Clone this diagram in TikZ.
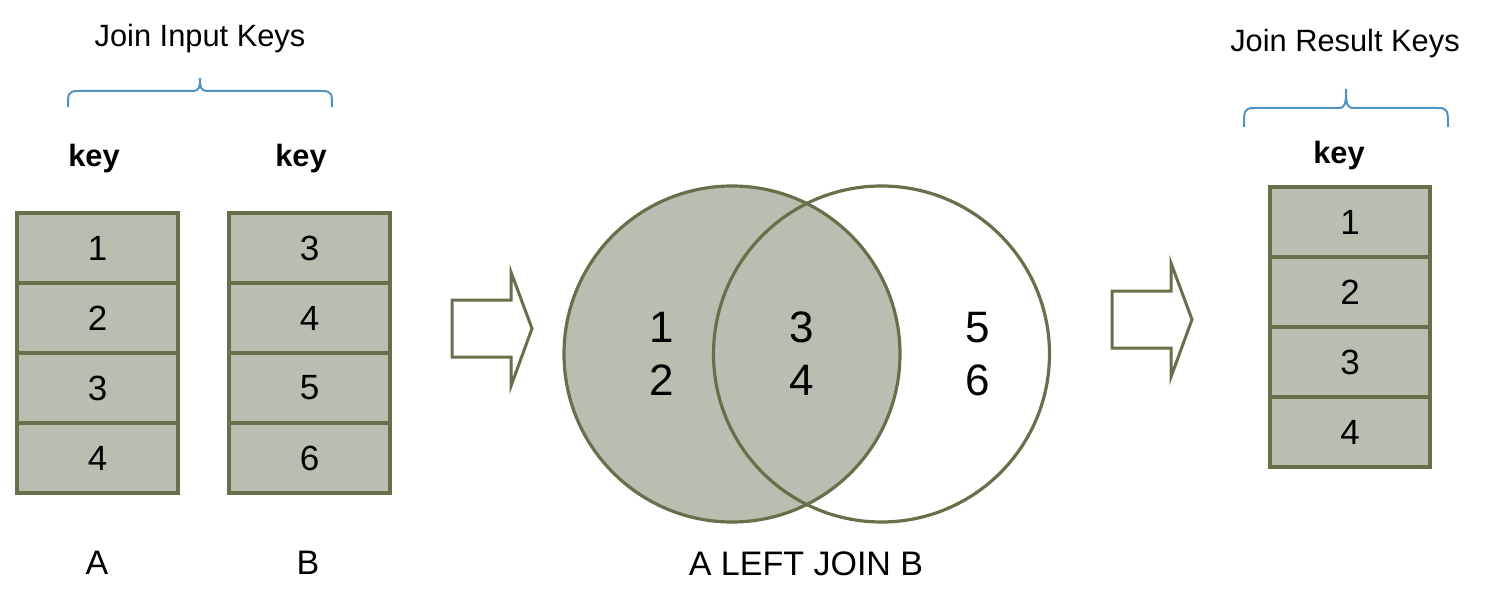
\documentclass[tikz,border=0pt]{standalone}
\usepackage{fontspec}
\setmainfont{Liberation Sans}
\definecolor{cellfill}{HTML}{B9BFB0}
\definecolor{olive}{HTML}{66704A}
\definecolor{bracecol}{HTML}{4F93C4}
\tikzset{
  cell/.style={draw=olive, fill=cellfill, line width=2pt, minimum width=80.5pt, minimum height=35pt, inner sep=0pt, font=\fontsize{17.5}{20}\selectfont},
  rcell/.style={cell, minimum width=80pt},
  keylabel/.style={font=\fontsize{15.4}{18}\selectfont\bfseries, anchor=base},
  title/.style={font=\fontsize{15.4}{18}\selectfont, anchor=base},
  setlabel/.style={font=\fontsize{17}{20}\selectfont, anchor=base},
  venndigit/.style={font=\fontsize{22}{26}\selectfont, anchor=base},
  bracket/.style={draw=bracecol, line width=1pt},
  bigarrow/.style={draw=olive, line width=1.5pt, fill=white, line join=miter},
  venn/.style={draw=olive, line width=1.6pt}
}
\begin{document}
\begin{tikzpicture}[x=0.5pt,y=-0.5pt]
\useasboundingbox (0,0) rectangle (1490,610);

% titles
\node[title] (tin) at (200,47) {Join Input Keys};
\node[title] (tout) at (1345,52) {Join Result Keys};

% braces
\draw[bracket] (68,107) .. controls (68,94) and (68,91) .. (78,91) -- (192,91)
  .. controls (199,91) and (200,88) .. (200,78)
  .. controls (200,88) and (201,91) .. (208,91) -- (322,91)
  .. controls (332,91) and (332,94) .. (332,107);
\draw[bracket] (1244,127) .. controls (1244,111) and (1244,108) .. (1254,108) -- (1338,108)
  .. controls (1345,108) and (1346,105) .. (1346,89)
  .. controls (1346,105) and (1347,108) .. (1354,108) -- (1438,108)
  .. controls (1448,108) and (1448,111) .. (1448,127);

% key headers
\node[keylabel] (ka) at (94,167) {key};
\node[keylabel] (kb) at (301,167) {key};
\node[keylabel] (kr) at (1339,163) {key};

% table A
\node[cell] (a1) at (97.5,248) {1};
\node[cell] (a2) at (97.5,318) {2};
\node[cell] (a3) at (97.5,388) {3};
\node[cell] (a4) at (97.5,458) {4};
% table B
\node[cell] (b1) at (309.5,248) {3};
\node[cell] (b2) at (309.5,318) {4};
\node[cell] (b3) at (309.5,388) {5};
\node[cell] (b4) at (309.5,458) {6};
% result table
\node[rcell] (r1) at (1350,222) {1};
\node[rcell] (r2) at (1350,292) {2};
\node[rcell] (r3) at (1350,362) {3};
\node[rcell] (r4) at (1350,432) {4};

% table labels
\node[setlabel] (la) at (97,574) {A};
\node[setlabel] (lb) at (308,574) {B};

% arrows
\draw[bigarrow] (452,300) -- (511,300) -- (511,272) -- (532,328.5) -- (511,386) -- (511,357) -- (452,357) -- cycle;
\draw[bigarrow] (1112,291) -- (1171,291) -- (1171,263) -- (1192,319.5) -- (1171,377) -- (1171,348) -- (1112,348) -- cycle;

% venn
\fill[cellfill] (732,354) circle[radius=84pt];
\draw[venn] (732,354) circle[radius=84pt];
\draw[venn] (881.5,354) circle[radius=84pt];
\node[venndigit] (v1) at (662,342) {1};
\node[venndigit] (v2) at (662,395) {2};
\node[venndigit] (v3) at (802,342) {3};
\node[venndigit] (v4) at (802,395) {4};
\node[venndigit] (v5) at (978,342) {5};
\node[venndigit] (v6) at (978,395) {6};

\node[setlabel] (lj) at (806,575) {A LEFT JOIN B};
\end{tikzpicture}
\end{document}
